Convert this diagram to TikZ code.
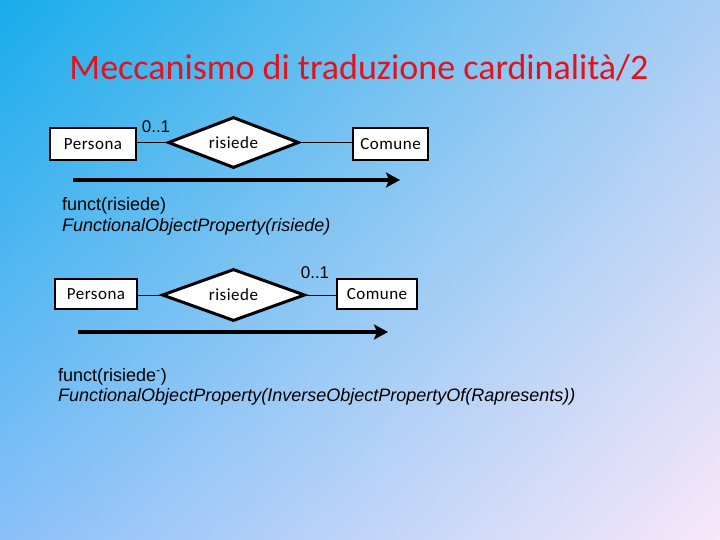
\documentclass[tikz,border=0pt]{standalone}
\usepackage{fontspec}
\setmainfont{Carlito}
\newfontfamily\arial{Liberation Sans}
\newfontfamily\boxfont[LetterSpace=3]{Carlito}
\usetikzlibrary{shapes.geometric,arrows.meta,shadings}
\definecolor{bgTL}{HTML}{18ADEA}
\definecolor{bgTR}{HTML}{ABCDF4}
\definecolor{bgBL}{HTML}{8AC0F8}
\definecolor{bgBR}{HTML}{F8E8F8}
\definecolor{titlered}{HTML}{E0141E}
\tikzset{
  entity/.style={draw=black, line width=2.5pt, fill=white, inner sep=0pt, font=\boxfont\fontsize{17}{18}\selectfont},
  relship/.style={draw=black, line width=3pt, fill=white, diamond, inner sep=0pt, font=\boxfont\fontsize{17}{18}\selectfont},
  link/.style={draw=black, line width=0.9pt},
  card/.style={font=\arial\fontsize{17}{19}\selectfont, inner sep=0pt},
  bigarrow/.style={draw=black, line width=4pt, -{Stealth[length=14pt,width=15pt,inset=3pt]}},
  fol/.style={font=\arial\fontsize{18}{20}\selectfont, inner sep=0pt, anchor=base west}
}
\begin{document}
\begin{tikzpicture}[x=1pt,y=-1pt]
\useasboundingbox (0,0) rectangle (720,540);
\shade[upper left=bgTL, upper right=bgTR, lower left=bgBL, lower right=bgBR] (0,0) rectangle (720,540);

\node[text=titlered, font=\fontsize{36}{40}\selectfont, inner sep=0pt] (title) at (359,68) {Meccanismo di traduzione cardinalità/2};

% top diagram
\node[entity, minimum width=86pt, minimum height=32pt] (p1) at (93,144) {Persona};
\node[relship, minimum width=131pt, minimum height=51pt, aspect=2.57] (d1) at (233.5,142.5) {risiede};
\node[entity, minimum width=75pt, minimum height=32pt] (c1) at (390.5,144) {Comune};
\draw[link] (p1.east |- d1.west) -- (d1.west);
\draw[link] (d1.east) -- (c1.west |- d1.east);
\node[card] (k1) at (156,127) {0..1};
\coordinate (a1s) at (73,180);
\coordinate (a1e) at (400,180);
\draw[bigarrow] (a1s) -- (a1e);
\node[fol] (t1) at (62,211) {funct(risiede)};
\node[fol] (t2) at (62,232) {\itshape FunctionalObjectProperty(risiede)};

% bottom diagram
\node[entity, minimum width=82pt, minimum height=30pt] (p2) at (96,294) {Persona};
\node[relship, minimum width=143pt, minimum height=52pt, aspect=2.75] (d2) at (233.5,295) {risiede};
\node[entity, minimum width=80pt, minimum height=30pt] (c2) at (377,294) {Comune};
\draw[link] (p2.east |- d2.west) -- (d2.west);
\draw[link] (d2.east) -- (c2.west |- d2.east);
\node[card] (k2) at (315,273) {0..1};
\coordinate (a2s) at (78,332);
\coordinate (a2e) at (388,332);
\draw[bigarrow] (a2s) -- (a2e);
\node[fol] (t3) at (58,381) {funct(risiede\textsuperscript{-})};
\node[fol] (t4) at (58,401) {\itshape FunctionalObjectProperty(InverseObjectPropertyOf(Rapresents))};
\end{tikzpicture}
\end{document}
